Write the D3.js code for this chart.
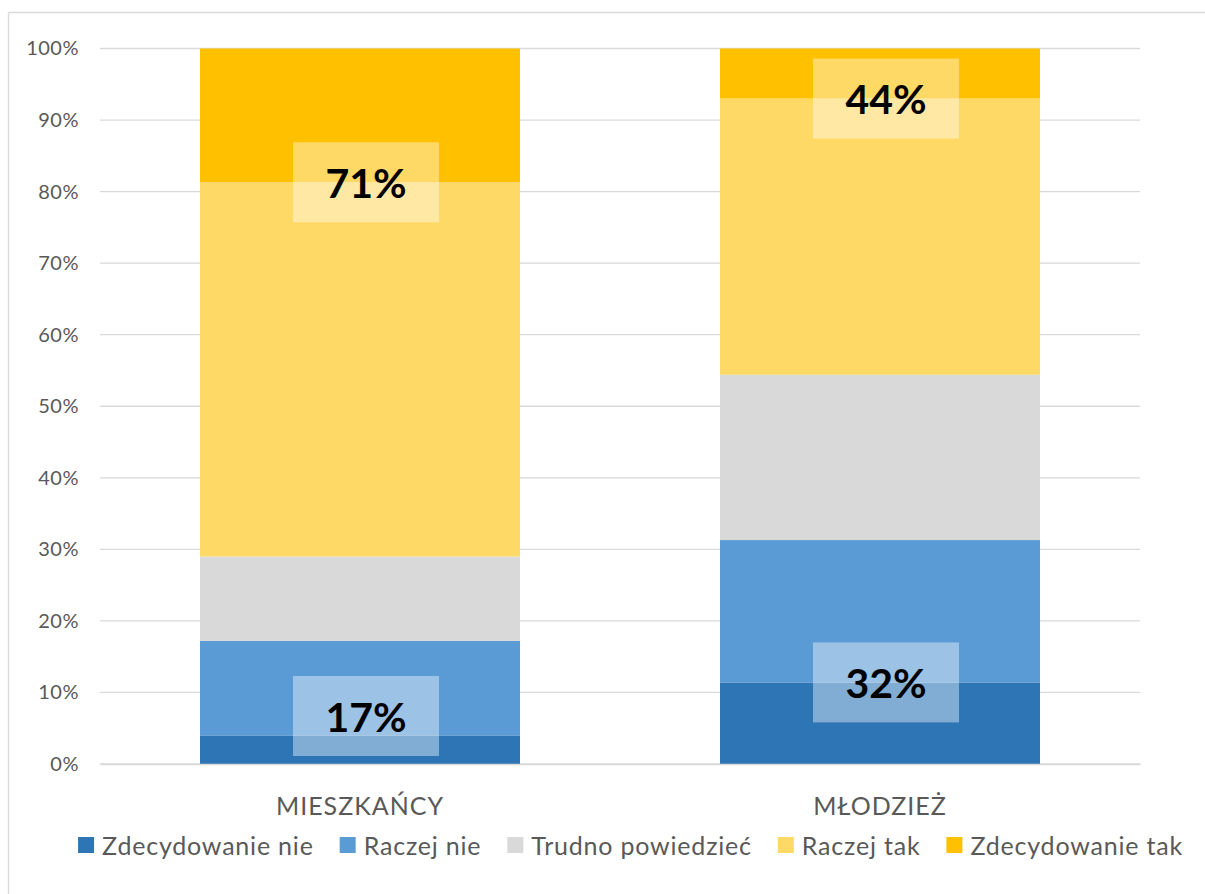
<!DOCTYPE html>
<html>
<head>
<meta charset="utf-8">
<script src="https://cdn.jsdelivr.net/npm/d3@7/dist/d3.min.js"></script>
<style>
  html, body { margin: 0; padding: 0; background: #fff; }
  svg { display: block; }
  text { font-family: Lato, "Open Sans", sans-serif; }
</style>
</head>
<body>
<svg id="chart" width="1205" height="894"></svg>
<script>
// Survey answers, share of respondents per group
const groups = ["MIESZKAŃCY", "MŁODZIEŻ"];
const answers = ["Zdecydowanie nie", "Raczej nie", "Trudno powiedzieć", "Raczej tak", "Zdecydowanie tak"];
const zdecydowanieNie = [4.0, 11.4];
const raczejNie = [13.2, 19.9];
const trudnoPowiedziec = [11.8, 23.1];
const raczejTak = [52.3, 38.6];
const zdecydowanieTak = [18.7, 7.0];
const yTicks = [0, 10, 20, 30, 40, 50, 60, 70, 80, 90, 100];

// Summary callouts: combined "tak" / "nie" shares per group
const calloutGroups = ["MIESZKAŃCY", "MIESZKAŃCY", "MŁODZIEŻ", "MŁODZIEŻ"];
const calloutText = ["71%", "17%", "44%", "32%"];
const calloutSide = ["tak", "nie", "tak", "nie"];

const colors = ["#2E75B6", "#5B9BD5", "#D9D9D9", "#FFD966", "#FFC000"];
const seriesValues = [zdecydowanieNie, raczejNie, trudnoPowiedziec, raczejTak, zdecydowanieTak];

const rows = groups.map((g, i) => {
  const r = { group: g };
  answers.forEach((a, k) => { r[a] = seriesValues[k][i]; });
  return r;
});

const svg = d3.select("#chart");
const W = 1205, H = 894;
const plot = { left: 100, right: 1140, top: 48.5, bottom: 764 };

// outer chart frame
svg.append("line").attr("x1", 8.5).attr("x2", W).attr("y1", 12.5).attr("y2", 12.5)
  .attr("stroke", "#D9D9D9").attr("stroke-width", 1.3);
svg.append("line").attr("x1", 8.5).attr("x2", 8.5).attr("y1", 12.5).attr("y2", H)
  .attr("stroke", "#D9D9D9").attr("stroke-width", 1.3);

const x = d3.scaleBand().domain(groups).range([plot.left, plot.right])
  .paddingInner(0.3846).paddingOuter(0.1923);
const y = d3.scaleLinear().domain([0, 100]).range([plot.bottom, plot.top]);

// gridlines
svg.append("g").selectAll("line").data(yTicks).join("line")
  .attr("x1", plot.left).attr("x2", plot.right)
  .attr("y1", d => y(d)).attr("y2", d => y(d))
  .attr("stroke", "#D9D9D9").attr("stroke-width", 1.3);

// y axis labels
const yAxis = d3.axisLeft(y).tickValues(yTicks).tickFormat(d => d + "%").tickSize(0).tickPadding(0);
const gy = svg.append("g").attr("transform", `translate(79,0)`).call(yAxis);
gy.select(".domain").remove();
gy.selectAll("text").attr("font-size", 20).attr("fill", "#595959")
  .attr("letter-spacing", 0.5)
  .attr("font-family", "Lato, 'Open Sans', sans-serif");

// stacked bars
const stack = d3.stack().keys(answers)(rows);
svg.append("g").selectAll("g").data(stack).join("g")
  .attr("fill", (d, i) => colors[i])
  .selectAll("rect").data(d => d).join("rect")
  .attr("x", d => x(d.data.group))
  .attr("width", x.bandwidth())
  .attr("y", d => y(d[1]))
  .attr("height", d => y(d[0]) - y(d[1]));

// category labels
const gx = svg.append("g").attr("transform", `translate(0,${plot.bottom})`)
  .call(d3.axisBottom(x).tickSize(0).tickPadding(0));
gx.select(".domain").attr("stroke", "#D9D9D9").attr("stroke-width", 1.3);
gx.selectAll("text").attr("font-size", 25).attr("fill", "#595959")
  .attr("letter-spacing", 1)
  .attr("dy", null).attr("y", 51)
  .attr("font-family", "Lato, 'Open Sans', sans-serif");

// callouts: translucent boxes with bold summary values
const boxW = 146, boxH = 80;
const callouts = calloutGroups.map((g, i) => {
  const gi = groups.indexOf(g);
  // anchor at the boundary between the strong and mild answers
  const anchor = calloutSide[i] === "tak"
    ? 100 - zdecydowanieTak[gi]
    : zdecydowanieNie[gi];
  let cy = y(anchor);
  cy = Math.min(cy, plot.bottom - boxH / 2 - 8);
  return { group: g, text: calloutText[i], cx: x(g) + x.bandwidth() / 2 + 6, cy };
});
const cg = svg.append("g").selectAll("g").data(callouts).join("g")
  .attr("transform", d => `translate(${d.cx},${d.cy})`);
cg.append("rect").attr("x", -boxW / 2).attr("y", -boxH / 2)
  .attr("width", boxW).attr("height", boxH)
  .attr("fill", "#fff").attr("fill-opacity", 0.4);
cg.append("text").text(d => d.text)
  .attr("text-anchor", "middle").attr("dominant-baseline", "central")
  .attr("font-size", 41).attr("font-weight", 700).attr("fill", "#000");

// legend
const legend = svg.append("g");
const items = legend.selectAll("g").data(answers).join("g");
items.append("rect").attr("width", 16).attr("height", 16).attr("y", -8)
  .attr("fill", (d, i) => colors[i]);
items.append("text").text(d => d).attr("x", 24).attr("dominant-baseline", "central")
  .attr("font-size", 25).attr("letter-spacing", 0.8).attr("fill", "#595959");
const gap = 26;
const widths = [];
items.each(function () { widths.push(24 + this.querySelector("text").getComputedTextLength()); });
const total = d3.sum(widths) + gap * (widths.length - 1);
let cur = (73 + 1188) / 2 - total / 2;
items.attr("transform", (d, i) => {
  const t = `translate(${cur},845)`;
  cur += widths[i] + gap;
  return t;
});
</script>
</body>
</html>
